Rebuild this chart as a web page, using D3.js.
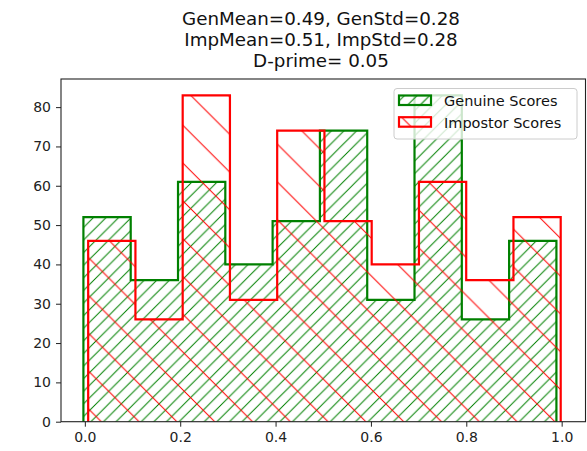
<!DOCTYPE html>
<html>
<head>
<meta charset="utf-8">
<script src="https://cdn.jsdelivr.net/npm/d3@7"></script>
<style>
  html, body { margin: 0; padding: 0; background: #ffffff; }
  svg { display: block; font-family: "DejaVu Sans", sans-serif; }
</style>
</head>
<body>
<svg id="chart" width="587" height="451"></svg>
<script>
// Score histograms: 10 bins each
const genuineCounts  = [52, 36, 61, 40, 51, 74, 31, 83, 26, 46];
const impostorCounts = [46, 26, 83, 31, 74, 51, 40, 61, 36, 52];
const genuineRange   = [-0.003, 0.989];
const impostorRange  = [0.007, 0.998];
const xTicks = [0.0, 0.2, 0.4, 0.6, 0.8, 1.0];
const yTicks = [0, 10, 20, 30, 40, 50, 60, 70, 80];
const titleLines = [
  "GenMean=0.49, GenStd=0.28",
  "ImpMean=0.51, ImpStd=0.28",
  "D-prime= 0.05"
];
const seriesNames = ["Genuine Scores", "Impostor Scores"];

const svg = d3.select("#chart");
const plot = { left: 61, right: 585.5, top: 79, bottom: 421.7 };

const x = d3.scaleLinear().domain([-0.05, 1.05]).range([plot.left, plot.right]);
const yMax = d3.max([...genuineCounts, ...impostorCounts]) * 1.05;
const y = d3.scaleLinear().domain([0, yMax]).range([plot.bottom, plot.top]);

// Hatch patterns anchored to page coordinates
const defs = svg.append("defs");
function hatch(id, color, spacing, dir, offset, width) {
  const s = spacing;
  const p = defs.append("pattern")
    .attr("id", id)
    .attr("patternUnits", "userSpaceOnUse")
    .attr("x", 0).attr("y", offset)
    .attr("width", s).attr("height", s);
  const d = dir === "/"
    ? `M0,${s} L${s},0 M${-s/4},${s/4} L${s/4},${-s/4} M${3*s/4},${5*s/4} L${5*s/4},${3*s/4}`
    : `M0,0 L${s},${s} M${-s/4},${3*s/4} L${s/4},${5*s/4} M${3*s/4},${-s/4} L${5*s/4},${s/4}`;
  p.append("path").attr("d", d)
    .attr("stroke", color).attr("stroke-width", width).attr("fill", "none");
}
hatch("hatchGen", "#008000", 12.6, "/", 8.6, 1.0);
hatch("hatchImp", "#ff0000", 37.8, "\\", 18, 1.0);

function edges(range, n) {
  const step = (range[1] - range[0]) / n;
  return d3.range(n + 1).map(i => range[0] + i * step);
}

function drawHist(counts, range, color, patternId) {
  const e = edges(range, counts.length);
  const pts = [[e[0], 0]];
  counts.forEach((c, i) => { pts.push([e[i], c]); pts.push([e[i + 1], c]); });
  pts.push([e[e.length - 1], 0]);
  const line = d3.line().x(d => x(d[0])).y(d => y(d[1]));
  const g = svg.append("g");
  g.append("path").attr("d", line(pts) + "Z")
    .attr("fill", `url(#${patternId})`).attr("stroke", "none");
  g.append("path").attr("d", line(pts))
    .attr("fill", "none").attr("stroke", color)
    .attr("stroke-width", 2.2).attr("stroke-linejoin", "miter");
}

drawHist(genuineCounts, genuineRange, "#008000", "hatchGen");
drawHist(impostorCounts, impostorRange, "#ff0000", "hatchImp");

// Axes
const xAxis = d3.axisBottom(x).tickValues(xTicks).tickFormat(d3.format(".1f"))
  .tickSizeInner(5).tickSizeOuter(0).tickPadding(5);
const yAxis = d3.axisLeft(y).tickValues(yTicks).tickFormat(d3.format("d"))
  .tickSizeInner(5).tickSizeOuter(0).tickPadding(5);

const gx = svg.append("g").attr("transform", `translate(0,${plot.bottom})`).call(xAxis);
const gy = svg.append("g").attr("transform", `translate(${plot.left},0)`).call(yAxis);
[gx, gy].forEach(g => {
  g.select(".domain").remove();
  g.selectAll("line").attr("stroke", "#222").attr("stroke-width", 1);
  g.selectAll("text").attr("fill", "#222").style("font-size", "14px")
    .style("font-family", "'DejaVu Sans', sans-serif");
});

// Frame
svg.append("rect")
  .attr("x", plot.left).attr("y", plot.top)
  .attr("width", plot.right - plot.left).attr("height", plot.bottom - plot.top)
  .attr("fill", "none").attr("stroke", "#222").attr("stroke-width", 1.1);

// Title
const cx = 321;
const baselines = [24.5, 45.8, 67];
svg.append("g").selectAll("text").data(titleLines).join("text")
  .attr("x", cx).attr("y", (d, i) => baselines[i])
  .attr("text-anchor", "middle").attr("fill", "#111")
  .style("font-size", "18.3px").text(d => d);

// Legend
const lg = svg.append("g");
lg.append("rect").attr("x", 394).attr("y", 88.5).attr("width", 183).attr("height", 50.5)
  .attr("rx", 3).attr("fill", "#ffffff").attr("fill-opacity", 0.8)
  .attr("stroke", "#cccccc").attr("stroke-width", 1);
const legendItems = [
  { name: seriesNames[0], color: "#008000", pattern: "hatchGen" },
  { name: seriesNames[1], color: "#ff0000", pattern: "hatchImp" }
];
legendItems.forEach((it, i) => {
  const yy = 95.5 + i * 21.7;
  lg.append("rect").attr("x", 399).attr("y", yy).attr("width", 32).attr("height", 9.5)
    .attr("fill", `url(#${it.pattern})`).attr("stroke", it.color).attr("stroke-width", 2.2);
  lg.append("text").attr("x", 444).attr("y", yy + 10.8)
    .attr("fill", "#111").style("font-size", "14.5px").text(it.name);
});
</script>
</body>
</html>
